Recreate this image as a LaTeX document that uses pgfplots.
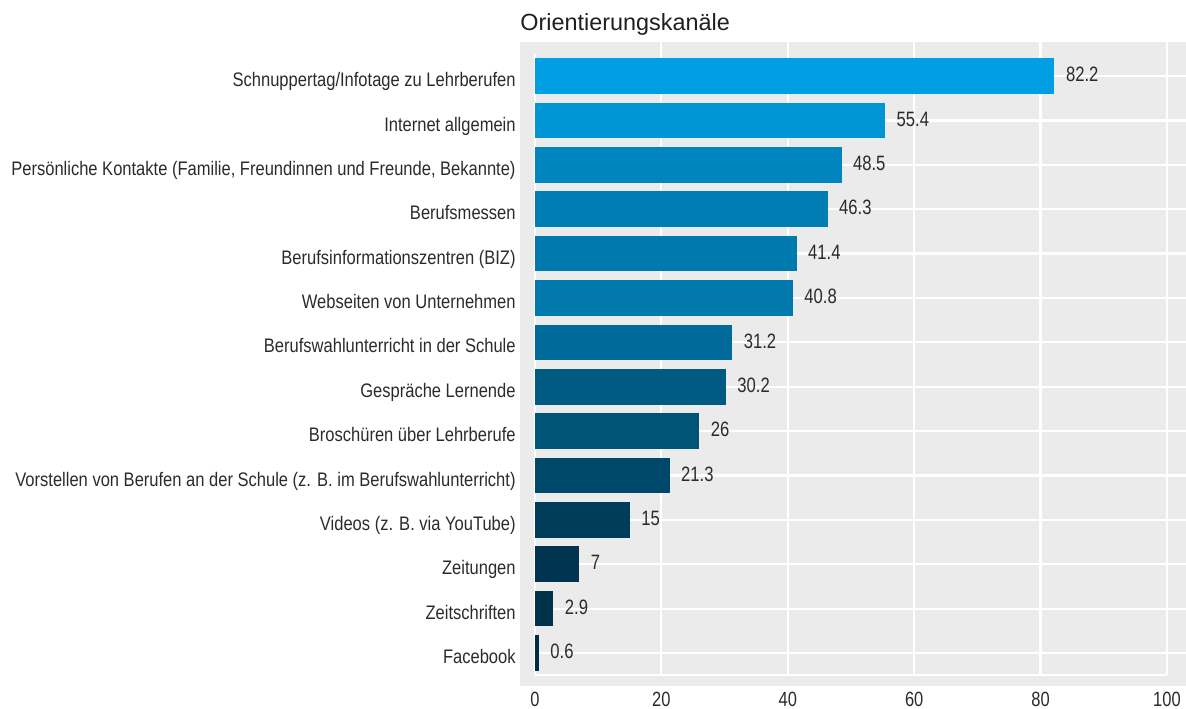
\documentclass[border=0pt]{standalone}
\usepackage{fontspec}
\setmainfont{Liberation Sans}
\newfontfamily\condfont[FakeStretch=0.843]{Liberation Sans}
\newfontfamily\valfont[FakeStretch=0.80]{Liberation Sans}
\usepackage{pgfplots}
\pgfplotsset{compat=1.18}
\definecolor{panel}{HTML}{EBEBEB}
\definecolor{txt}{HTML}{2B2B2B}
\definecolor{c1}{HTML}{009FE3}
\definecolor{c2}{HTML}{0095D5}
\definecolor{c3}{HTML}{0085BE}
\definecolor{c4}{HTML}{007DB3}
\definecolor{c5}{HTML}{007AAE}
\definecolor{c6}{HTML}{0078AB}
\definecolor{c7}{HTML}{006B9A}
\definecolor{c8}{HTML}{005A82}
\definecolor{c9}{HTML}{005476}
\definecolor{c10}{HTML}{00486A}
\definecolor{c11}{HTML}{003D5B}
\definecolor{c12}{HTML}{003450}
\definecolor{c13}{HTML}{00324C}
\definecolor{c14}{HTML}{002B44}
\begin{document}
\begin{tikzpicture}
\useasboundingbox (-260pt,-11pt) rectangle (333pt,343pt);
\begin{axis}[
  at={(0pt,0pt)}, anchor=south west,
  scale only axis, width=333pt, height=322pt,
  xmin=-2.373, xmax=103.01,
  ymin=-0.744, ymax=13.767,
  axis background/.style={fill=panel},
  axis line style={draw=none},
  tick style={draw=none},
  major tick length=0pt,
  xtick={0,20,40,60,80,100},
  ytick={0,1,...,13},
  yticklabels={Facebook,Zeitschriften,Zeitungen,{Videos (z. B. via YouTube)},{Vorstellen von Berufen an der Schule (z. B. im Berufswahlunterricht)},Broschüren über Lehrberufe,Gespräche Lernende,Berufswahlunterricht in der Schule,Webseiten von Unternehmen,Berufsinformationszentren (BIZ),Berufsmessen,{Persönliche Kontakte (Familie, Freundinnen und Freunde, Bekannte)},Internet allgemein,Schnuppertag/Infotage zu Lehrberufen},
  /pgf/number format/assume math mode=true,
  yticklabel style={font=\condfont\fontsize{9.8pt}{11pt}\selectfont, text=txt, anchor=base east, inner sep=0pt, xshift=-2pt, yshift=-5.3pt},
  xticklabel style={font=\valfont\fontsize{10.3pt}{12pt}\selectfont, text=txt, anchor=base, inner sep=0pt, yshift=-10pt},
  clip=false,
]
% grid lines (white)
\addplot[white, line width=1.1pt, forget plot] coordinates {(0,-0.5) (100,-0.5)};
\addplot[white, line width=1.1pt, forget plot] coordinates {(0,-0.5) (0,13.5)};
\foreach \xx in {20,40,60,80,100} {
  \edef\tmp{\noexpand\addplot[white, line width=1.1pt, forget plot] coordinates {(\xx,-0.5) (\xx,13.767)};}
  \tmp
}
\foreach \yy in {0,...,13} {
  \edef\tmp{\noexpand\addplot[white, line width=1.1pt, forget plot] coordinates {(0,\yy) (103.01,\yy)};}
  \tmp
}
% bars
\pgfplotsset{bars/.style={xbar, bar width=17.8pt, bar shift=0pt, draw=none, point meta=x,
  nodes near coords,
  nodes near coords style={font=\valfont\fontsize{10.4pt}{12pt}\selectfont, text=txt, anchor=base west, inner sep=0pt, xshift=5.6pt, yshift=-2.85pt}}}
\addplot[bars, fill=c1] coordinates {(82.2,13)};
\addplot[bars, fill=c2] coordinates {(55.4,12)};
\addplot[bars, fill=c3] coordinates {(48.5,11)};
\addplot[bars, fill=c4] coordinates {(46.3,10)};
\addplot[bars, fill=c5] coordinates {(41.4,9)};
\addplot[bars, fill=c6] coordinates {(40.8,8)};
\addplot[bars, fill=c7] coordinates {(31.2,7)};
\addplot[bars, fill=c8] coordinates {(30.2,6)};
\addplot[bars, fill=c9] coordinates {(26,5)};
\addplot[bars, fill=c10] coordinates {(21.3,4)};
\addplot[bars, fill=c11] coordinates {(15,3)};
\addplot[bars, fill=c12] coordinates {(7,2)};
\addplot[bars, fill=c13] coordinates {(2.9,1)};
\addplot[bars, fill=c14] coordinates {(0.6,0)};
\end{axis}
\node[anchor=base west, inner sep=0pt, text=black!88, font=\fontsize{11.7pt}{14pt}\selectfont] at (0pt,327.65pt) {Orientierungskanäle};
\end{tikzpicture}
\end{document}
